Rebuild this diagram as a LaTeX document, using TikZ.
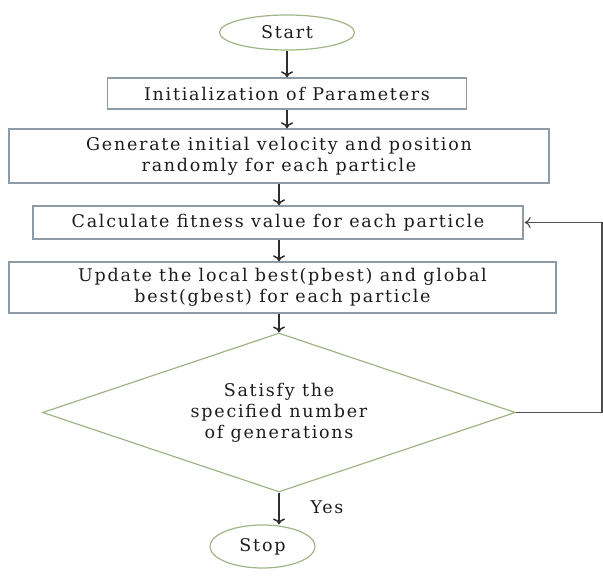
\documentclass[tikz,border=0pt]{standalone}
\usepackage{fontspec}
\setmainfont{DejaVu Serif}[LetterSpace=10]
\usetikzlibrary{shapes.geometric,arrows.meta}
\definecolor{boxline}{HTML}{8E9AA6}
\definecolor{termline}{HTML}{9FB585}
\definecolor{inkgray}{HTML}{1C1C1C}
\definecolor{arrowgray}{HTML}{2E2E2E}
\begin{document}
\begin{tikzpicture}[x=1pt,y=-1pt,
  every node/.style={text=inkgray,font=\fontsize{17.5}{22}\selectfont},
  procbox/.style={draw=boxline,line width=1.4pt,rectangle,inner sep=0pt,align=center},
  terminal/.style={draw=termline,line width=1.2pt,ellipse,inner sep=0pt},
  decision/.style={draw=termline,line width=1.2pt,diamond,aspect=2.97,inner sep=0pt,align=center},
  flow/.style={draw=arrowgray,line width=1.5pt,-{To[length=6pt,width=12pt,line width=1.5pt]}},
  loopback/.style={draw=arrowgray!85,line width=1.1pt,-{To[length=6pt,width=11pt,line width=1.1pt]}}]
\useasboundingbox (0,0) rectangle (603,580);

\node[terminal,minimum width=135pt,minimum height=35pt] (start) at (287,32.5) {Start};
\node[procbox,minimum width=359pt,minimum height=31pt] (init) at (287,93.5) {Initialization of Parameters};
\node[procbox,minimum width=540pt,minimum height=54pt] (gen) at (279,156)
  {\raisebox{-2pt}{\shortstack{Generate initial velocity and position\\[1pt]randomly for each particle}}};
\node[procbox,minimum width=490pt,minimum height=33pt] (calc) at (278,222.5)
  {Calculate fitness value for each particle};
\node[procbox,minimum width=547pt,minimum height=51pt] (upd) at (282.5,287.5)
  {\raisebox{-2pt}{\shortstack{Update the local best(pbest) and global\\[1pt]best(gbest) for each particle}}};
\node[decision,minimum width=473pt,minimum height=159pt] (dec) at (279,412.5)
  {\raisebox{-2pt}{\shortstack{Satisfy the\\[1pt]specified number\\[1pt]of generations}}};
\node[terminal,minimum width=105pt,minimum height=43pt] (stop) at (262.5,546.5) {Stop};
\node (yes) at (327,507) {Yes};
\coordinate (turn) at (602,412.5);

\draw[flow] (start.south) -- (start.south |- init.north);
\draw[flow] (init.south) -- (init.south |- gen.north);
\draw[flow] (gen.south -| dec.north) -- (calc.north -| dec.north);
\draw[flow] (calc.south -| dec.north) -- (upd.north -| dec.north);
\draw[flow] (upd.south -| dec.north) -- (dec.north);
\draw[flow] (dec.south) -- (stop.north -| dec.south);
\draw[loopback] (dec.east) -- (turn) |- ([xshift=1pt]calc.east);
\end{tikzpicture}
\end{document}
